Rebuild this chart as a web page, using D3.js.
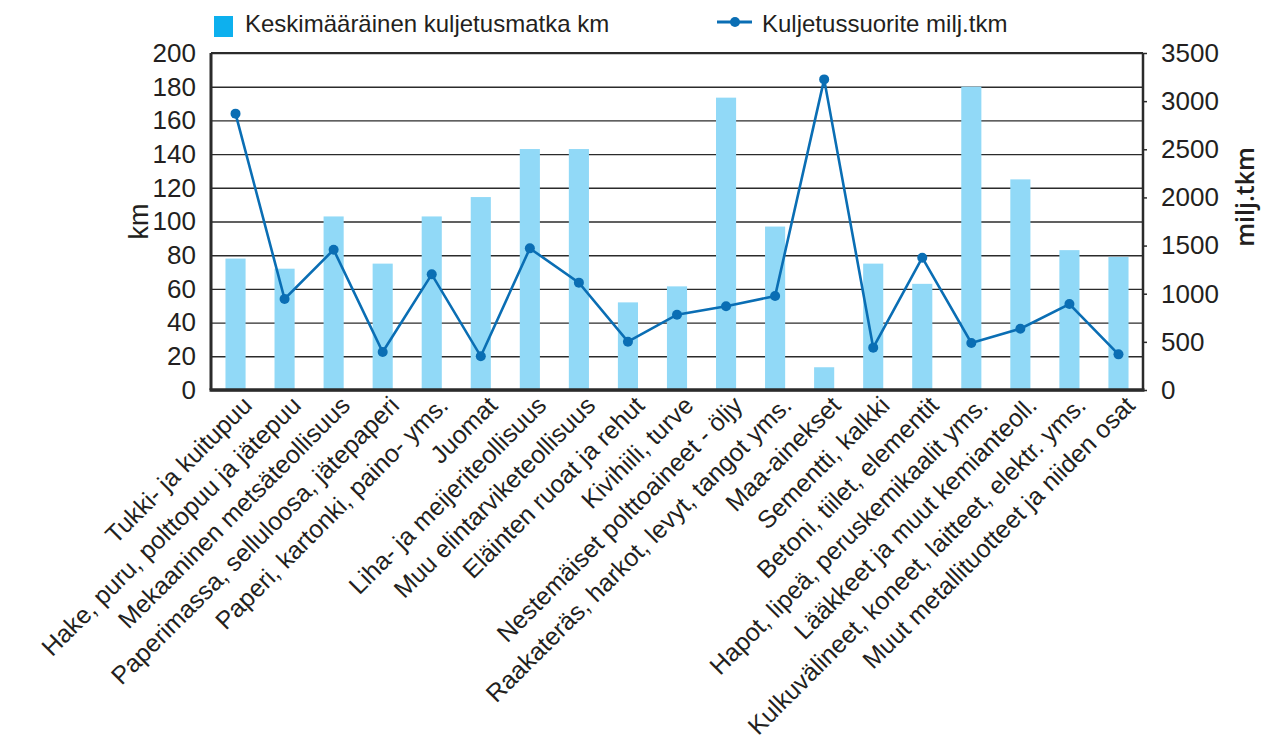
<!DOCTYPE html>
<html>
<head>
<meta charset="utf-8">
<script src="https://cdn.jsdelivr.net/npm/d3@7"></script>
<style>
  body { margin: 0; background: #fff; }
  svg { display: block; font-family: "Liberation Sans", Arial, sans-serif; }
</style>
</head>
<body>
<svg id="chart" width="1262" height="743"></svg>
<script>
const categories = [
  "Tukki- ja kuitupuu",
  "Hake, puru, polttopuu ja jätepuu",
  "Mekaaninen metsäteollisuus",
  "Paperimassa, selluloosa, jätepaperi",
  "Paperi, kartonki, paino- yms.",
  "Juomat",
  "Liha- ja meijeriteollisuus",
  "Muu elintarviketeollisuus",
  "Eläinten ruoat ja rehut",
  "Kivihiili, turve",
  "Nestemäiset polttoaineet - öljy",
  "Raakateräs, harkot, levyt, tangot yms.",
  "Maa-ainekset",
  "Sementti, kalkki",
  "Betoni, tiilet, elementit",
  "Hapot, lipeä, peruskemikaalit yms.",
  "Lääkkeet ja muut kemianteoll.",
  "Kulkuvälineet, koneet, laitteet, elektr. yms.",
  "Muut metallituotteet ja niiden osat"
];
const kmValues = [78, 72, 103, 75, 103, 114.5, 143, 143, 52, 61.5, 173.5, 97, 13.5, 75, 63, 180, 125, 83, 79];
const tkmValues = [2870, 945, 1457, 395, 1201, 350, 1471, 1115, 502, 782, 869, 976, 3226, 440, 1374, 488, 637, 893, 370];
const kmTicks = [0, 20, 40, 60, 80, 100, 120, 140, 160, 180, 200];
const tkmTicks = [0, 500, 1000, 1500, 2000, 2500, 3000, 3500];
const legendLabels = ["Keskimääräinen kuljetusmatka km", "Kuljetussuorite milj.tkm"];
const axisTitles = ["km", "milj.tkm"];

const margin = { left: 211, right: 1143, top: 53, bottom: 390 };
const barColor = "#91d9f7";
const legendBarColor = "#0db0ee";
const lineColor = "#0a6eb4";
const textColor = "#231f20";
const gridColor = "#2b2b2b";

const svg = d3.select("#chart");

const x = d3.scaleBand().domain(categories)
  .range([margin.left, margin.right])
  .paddingInner(0.59).paddingOuter(0.295);
const yKm = d3.scaleLinear().domain([0, 200]).range([margin.bottom, margin.top]);
const yTkm = d3.scaleLinear().domain([0, 3500]).range([margin.bottom, margin.top]);

// gridlines + left axis labels
const gLeft = svg.append("g").attr("transform", `translate(${margin.left},0)`)
  .call(d3.axisLeft(yKm).tickValues(kmTicks).tickSize(-(margin.right - margin.left)).tickPadding(15));
gLeft.select(".domain").remove();
gLeft.selectAll(".tick line").attr("stroke", gridColor).attr("stroke-width", 1.4);
gLeft.selectAll(".tick text").attr("fill", textColor)
  .style("font-size", "26px").style("font-family", "Liberation Sans, Arial, sans-serif");

// bars
svg.append("g").selectAll("rect").data(categories).join("rect")
  .attr("x", d => x(d))
  .attr("width", x.bandwidth())
  .attr("y", (d, i) => yKm(kmValues[i]))
  .attr("height", (d, i) => yKm(0) - yKm(kmValues[i]))
  .attr("fill", barColor);

// right axis
const gRight = svg.append("g").attr("transform", `translate(${margin.right},0)`)
  .call(d3.axisRight(yTkm).tickValues(tkmTicks).tickSize(4).tickPadding(14).tickFormat(d3.format("d")));
gRight.select(".domain").remove();
gRight.selectAll(".tick line").attr("stroke", gridColor).attr("stroke-width", 1.5);
gRight.selectAll(".tick text").attr("fill", textColor)
  .style("font-size", "26px").style("font-family", "Liberation Sans, Arial, sans-serif");

// frame
svg.append("line").attr("x1", margin.left).attr("x2", margin.right)
  .attr("y1", margin.top).attr("y2", margin.top).attr("stroke", gridColor).attr("stroke-width", 2);
svg.append("line").attr("x1", margin.left).attr("x2", margin.left)
  .attr("y1", margin.top).attr("y2", margin.bottom).attr("stroke", gridColor).attr("stroke-width", 3);
svg.append("line").attr("x1", margin.right).attr("x2", margin.right)
  .attr("y1", margin.top).attr("y2", margin.bottom).attr("stroke", gridColor).attr("stroke-width", 2.5);

// x axis
const gX = svg.append("g").attr("transform", `translate(0,${margin.bottom})`)
  .call(d3.axisBottom(x).tickSize(0).tickFormat(d => d));
gX.select(".domain").attr("stroke", gridColor).attr("stroke-width", 3.5)
  .attr("d", `M${margin.left - 1.5},0H${margin.right + 1.5}`);
gX.selectAll(".tick text")
  .attr("fill", textColor)
  .style("font-size", "25px")
  .style("font-family", "Liberation Sans, Arial, sans-serif")
  .attr("text-anchor", "end")
  .attr("x", 0).attr("y", 0).attr("dy", 0)
  .attr("transform", "translate(18,17) rotate(-45)");

// line
const line = d3.line()
  .x((d, i) => x(categories[i]) + x.bandwidth() / 2)
  .y(d => yTkm(d));
svg.append("path").datum(tkmValues)
  .attr("d", line).attr("fill", "none")
  .attr("stroke", lineColor).attr("stroke-width", 2.6);
svg.append("g").selectAll("circle").data(tkmValues).join("circle")
  .attr("cx", (d, i) => x(categories[i]) + x.bandwidth() / 2)
  .attr("cy", d => yTkm(d))
  .attr("r", 5)
  .attr("fill", lineColor);

// axis titles
svg.append("text")
  .attr("transform", `translate(148,${(margin.top + margin.bottom) / 2}) rotate(-90)`)
  .attr("text-anchor", "middle")
  .attr("fill", textColor)
  .style("font-size", "27px")
  .text(axisTitles[0]);
svg.append("text")
  .attr("transform", `translate(1254,197) rotate(-90)`)
  .attr("text-anchor", "middle")
  .attr("fill", textColor)
  .style("font-size", "25px")
  .style("font-family", "Open Sans, sans-serif")
  .style("font-weight", 600)
  .text(axisTitles[1]);

// legend
const leg = svg.append("g");
leg.append("rect").attr("x", 214).attr("y", 16).attr("width", 19).attr("height", 21).attr("fill", legendBarColor);
leg.append("text").attr("x", 245).attr("y", 32).attr("fill", textColor)
  .style("font-size", "24px").text(legendLabels[0]);
leg.append("line").attr("x1", 717).attr("x2", 752).attr("y1", 22).attr("y2", 22)
  .attr("stroke", lineColor).attr("stroke-width", 3);
leg.append("circle").attr("cx", 735).attr("cy", 22).attr("r", 5).attr("fill", lineColor);
leg.append("text").attr("x", 762).attr("y", 32).attr("fill", textColor)
  .style("font-size", "24px").text(legendLabels[1]);
</script>
</body>
</html>
